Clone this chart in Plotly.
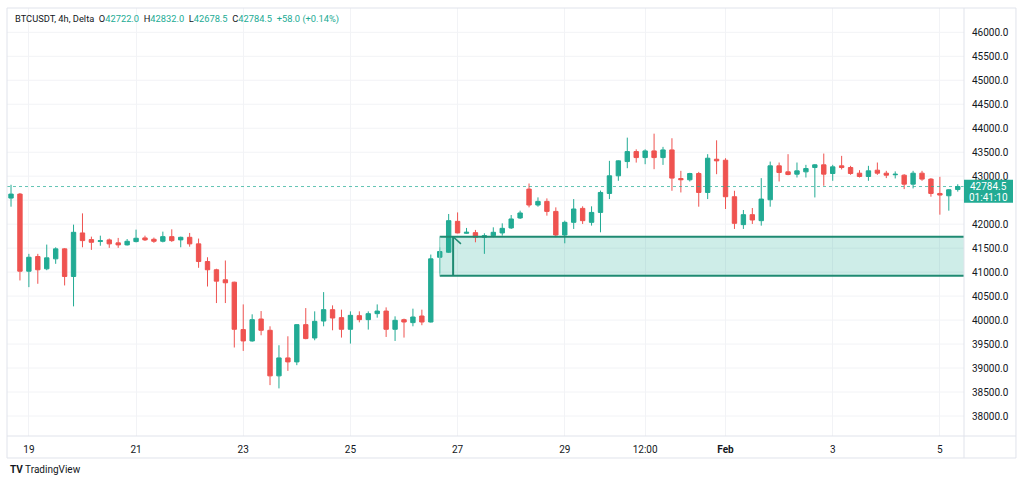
import pandas as pd
import plotly.graph_objects as go

# BTCUSDT 4h candles, 2024-01-18 16:00 .. 2024-02-05 08:00
start = "2024-01-18 16:00"
opens = [42544, 42627, 41019, 41325, 41069, 41277, 41485, 40909, 41817, 41678,
         41640, 41672, 41610, 41568, 41637, 41713, 41685, 41643, 41740, 41672,
         41726, 41589, 41221, 41049, 40840, 40790, 39802, 39565, 40022, 39787,
         38837, 39211, 39128, 39905, 39627, 39980, 40217, 40051, 39808, 40092,
         40009, 40134, 40188, 39808, 40009, 39947, 40085, 39960, 41310, 41414,
         42059, 41810, 41823, 41726, 41761, 41817, 41921, 42129, 42731, 42399,
         42475, 42266, 41774, 42038, 42329, 42038, 42245, 42640, 43008, 43305,
         43513, 43388, 43527, 43388, 43548, 42952, 42925, 43056, 42661, 43354,
         43333, 42572, 41990, 42198, 42073, 42509, 43216, 43091, 43042, 43091,
         43181, 43237, 43056, 43216, 43181, 43063, 42994, 43125, 43063, 43030,
         43021, 42834, 43063, 42939, 42640, 42592, 42722.0]
highs = [42821, 42650, 41381, 41381, 41574, 41517, 41500, 41990, 42225, 41740,
         41760, 41700, 41713, 41690, 41886, 41760, 41720, 41844, 41892, 41740,
         41817, 41700, 41310, 41070, 41242, 40800, 40327, 40120, 40188, 39870,
         39475, 39662, 39910, 40250, 40182, 40583, 40307, 40217, 40182, 40182,
         40182, 40327, 40265, 40078, 40030, 40238, 40217, 41366, 41518, 42212,
         42245, 41921, 41880, 41810, 41934, 42017, 42191, 42281, 42848, 42558,
         42537, 42350, 42073, 42523, 42372, 42372, 42700, 43320, 43330, 43804,
         43560, 43560, 43887, 43611, 43791, 43112, 43070, 43090, 43459, 43748,
         43375, 42696, 42295, 42337, 42960, 43305, 43285, 43459, 43285, 43237,
         43250, 43472, 43237, 43424, 43216, 43125, 43216, 43285, 43112, 43100,
         43042, 43112, 43112, 42960, 42987, 42730, 42832.0]
lows = [42364, 40826, 40687, 40757, 41040, 41173, 40722, 40286, 41518, 41464,
        41550, 41506, 41506, 41555, 41620, 41650, 41610, 41620, 41630, 41518,
        41530, 41090, 40700, 40355, 40355, 39428, 39357, 39550, 39683, 38644,
        38576, 38941, 39060, 39600, 39579, 39870, 39787, 39635, 39510, 39953,
        39802, 40050, 39648, 39565, 39635, 39870, 39893, 39950, 40972, 41400,
        41810, 41800, 41622, 41381, 41726, 41761, 41900, 42108, 42350, 42364,
        42177, 41726, 41601, 41900, 42004, 41970, 41830, 42523, 42904, 43167,
        43284, 43250, 43146, 43236, 42696, 42661, 42890, 42364, 42523, 43042,
        42316, 41900, 41900, 42004, 41969, 42364, 42890, 43020, 42973, 42973,
        42557, 42800, 42904, 43140, 43028, 42973, 42904, 43028, 42960, 42953,
        42731, 42745, 42904, 42572, 42198, 42281, 42678.5]
closes = [42627, 41019, 41310, 41049, 41298, 41485, 40909, 41830, 41657, 41622,
          41655, 41589, 41568, 41643, 41706, 41672, 41643, 41740, 41657, 41726,
          41589, 41221, 41049, 40812, 40778, 39808, 39565, 40009, 39787, 38837,
          39211, 39128, 39905, 39614, 39974, 40217, 40043, 39808, 40099, 40009,
          40134, 40188, 39808, 39995, 39960, 40064, 39960, 41277, 41429, 42073,
          41817, 41830, 41726, 41761, 41830, 41913, 42108, 42233, 42399, 42475,
          42266, 41774, 42038, 42316, 42073, 42245, 42661, 43008, 43320, 43513,
          43388, 43527, 43388, 43548, 42960, 42925, 43056, 42661, 43375, 43320,
          42572, 42017, 42198, 42087, 42523, 43216, 43077, 43035, 43112, 43160,
          43237, 43043, 43195, 43181, 43056, 42994, 43112, 43063, 43021, 43040,
          42834, 43063, 42939, 42640, 42607, 42717, 42784.5]

tick_dates = ["2024-01-19", "2024-01-21", "2024-01-23", "2024-01-25", "2024-01-27",
              "2024-01-29", "2024-01-30 12:00", "2024-02-01", "2024-02-03", "2024-02-05"]
tick_labels = ["19", "21", "23", "25", "27", "29", "12:00", "<b>Feb</b>", "3", "5"]
# 42500 is hidden behind the last-price tag
price_ticks = [38000, 38500, 39000, 39500, 40000, 40500, 41000, 41500, 42000,
               43000, 43500, 44000, 44500, 45000, 45500, 46000]
grid_prices = [38000, 38500, 39000, 39500, 40000, 40500, 41000, 41500, 42000,
               42500, 43000, 43500, 44000, 44500, 45000, 45500, 46000]

# drawn demand zone
zone_low, zone_high = 40925, 41738
zone_start = "2024-01-26 16:00"

UP = "#22ab94"
DOWN = "#ef5350"
TXT = "#131722"
BORDER = "#e0e3eb"
GRID = "#f2f3f6"
FONT = "Roboto"

times = pd.date_range(start, periods=len(opens), freq="4h")
t0 = times[0]
x_start = t0 - pd.Timedelta(hours=1.8)
x_end = t0 + pd.Timedelta(hours=426.8)
last = closes[-1]

fig = go.Figure(go.Candlestick(
    x=times, open=opens, high=highs, low=lows, close=closes,
    increasing=dict(line=dict(color=UP, width=1), fillcolor=UP),
    decreasing=dict(line=dict(color=DOWN, width=1), fillcolor=DOWN),
    whiskerwidth=0, showlegend=False, hoverinfo="skip",
))

shapes = [
    dict(type="line", xref="paper", x0=0, x1=1, y0=p, y1=p, layer="below",
         line=dict(color=GRID, width=1))
    for p in grid_prices
]
shapes += [
    # zone (covers the grid, sits under the candles)
    dict(type="rect", x0=zone_start, x1=x_end, y0=zone_low, y1=zone_high,
         fillcolor="rgba(34,171,148,0.22)", line_width=0, layer="between"),
    dict(type="line", x0=zone_start, x1=x_end, y0=zone_high, y1=zone_high,
         line=dict(color="#1f8a72", width=2)),
    dict(type="line", x0=zone_start, x1=x_end, y0=zone_low, y1=zone_low,
         line=dict(color="#1f8a72", width=2)),
    dict(type="line", x0=zone_start, x1=zone_start, y0=zone_low, y1=zone_high,
         line=dict(color="#8fd3c5", width=1)),
    dict(type="line", x0="2024-01-26 22:00", x1="2024-01-26 22:00", y0=zone_low, y1=zone_high,
         line=dict(color="#1f8a72", width=2)),
    dict(type="line", x0="2024-01-26 22:00", x1="2024-01-27 01:30", y0=zone_high, y1=41590,
         line=dict(color="#1f8a72", width=1.5)),
    # last price line
    dict(type="line", xref="paper", x0=0, x1=1, y0=last, y1=last,
         line=dict(color="rgba(34,171,148,0.7)", width=1, dash="dot")),
    # frame and separators
    dict(type="rect", xref="paper", yref="paper", x0=0, x1=1.0543, y0=-0.0514, y1=1,
         line=dict(color=BORDER, width=1)),
    dict(type="line", xref="paper", yref="paper", x0=1, x1=1, y0=-0.0514, y1=1,
         line=dict(color=BORDER, width=1)),
    dict(type="line", xref="paper", yref="paper", x0=0, x1=1.0543, y0=0, y1=0,
         line=dict(color=BORDER, width=1)),
    # price tag
    dict(type="rect", xref="paper", x0=1.0, x1=1.0512, y0=last - 340, y1=last + 140,
         fillcolor=UP, line_width=0),
]

g = f"<span style='color:{UP}'>"
header = (f"BTCUSDT, 4h, Delta  O{g}{opens[-1]:.1f}</span>  H{g}{highs[-1]:.1f}</span>  "
          f"L{g}{lows[-1]:.1f}</span>  C{g}{closes[-1]:.1f}</span>  "
          f"{g}+58.0 (+0.14%)</span>")

annotations = [
    dict(text=header, xref="paper", yref="paper", x=0.006, y=0.974, xanchor="left",
         yanchor="middle", showarrow=False, font=dict(size=9.3, color=TXT, family=FONT)),
    dict(text=f"{last:.1f}", xref="paper", yref="y", x=1.0256, y=last, xanchor="center",
         yanchor="middle", showarrow=False, font=dict(size=10, color="white", family=FONT)),
    dict(text="01:41:10", xref="paper", yref="y", x=1.0256, y=last - 230, xanchor="center",
         yanchor="middle", showarrow=False, font=dict(size=10, color="white", family=FONT)),
    dict(text="<b>TV</b> TradingView", xref="paper", yref="paper", x=0.001, y=-0.0794,
         xanchor="left", yanchor="middle", showarrow=False,
         font=dict(size=10, color=TXT, family=FONT)),
]

fig.update_layout(
    width=1024, height=485,
    margin=dict(l=7, r=60, t=8, b=49),
    paper_bgcolor="white", plot_bgcolor="white",
    font=dict(family=FONT, size=10, color=TXT),
    shapes=shapes, annotations=annotations,
    xaxis=dict(range=[x_start, x_end], rangeslider=dict(visible=False),
               tickvals=tick_dates, ticktext=tick_labels,
               showgrid=True, gridcolor=GRID, zeroline=False, showline=False,
               ticks="outside", ticklen=4, tickcolor="rgba(0,0,0,0)"),
    yaxis=dict(range=[37583, 46507], side="right", tickvals=price_ticks, tickformat=".1f",
               showgrid=False, zeroline=False, showline=False,
               ticks="outside", ticklen=5, tickcolor="rgba(0,0,0,0)"),
)

fig.write_html("out.html", config={"displayModeBar": False},
               post_script="document.body.style.margin='0';")
